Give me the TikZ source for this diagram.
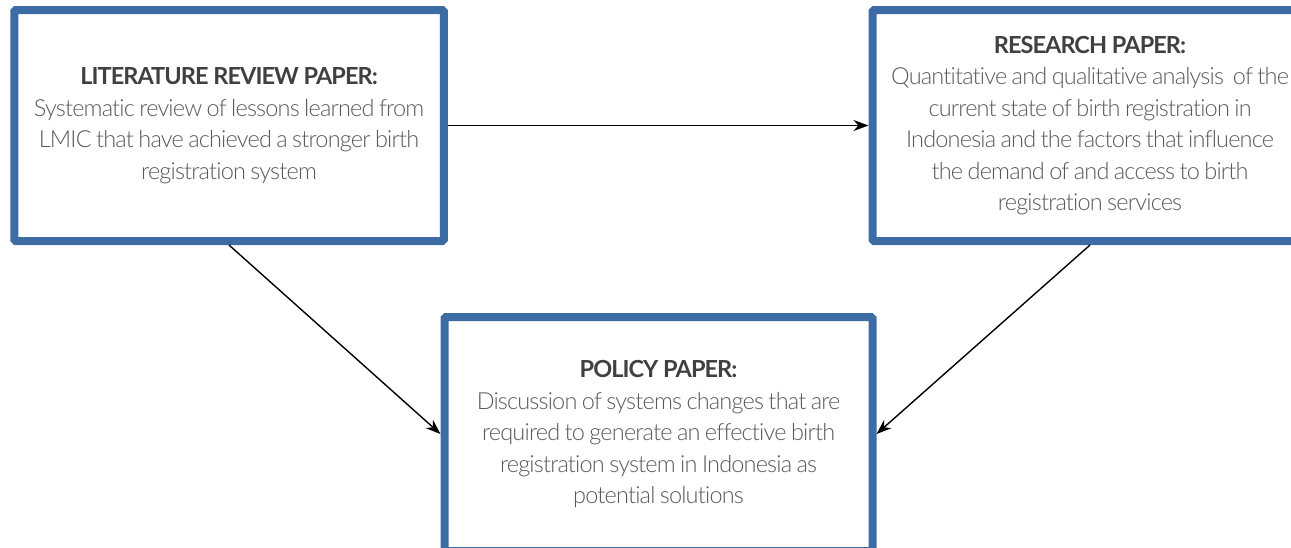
\documentclass[tikz,border=0pt]{standalone}
\usepackage{fontspec}
\setmainfont{Lato}
\newfontfamily\bodyfont{Lato}[UprightFont=* Light, LetterSpace=-3.5, WordSpace=0.8, Ligatures=NoCommon]
\newfontfamily\titlefont{Lato}[UprightFont=* Bold, LetterSpace=-4]
\usetikzlibrary{arrows.meta}
\definecolor{boxblue}{RGB}{61,108,165}
\definecolor{titlegray}{RGB}{64,64,64}
\definecolor{bodygray}{RGB}{89,89,89}
\tikzset{
  paperbox/.style={draw=boxblue, line width=8pt, rounded corners=1.5pt, fill=white,
    align=center, inner sep=0pt, text=bodygray,
    font=\bodyfont\fontsize{23.5}{31.5}\selectfont},
  conn/.style={draw=black, line width=1.4pt, -{Stealth[length=15pt,width=11pt]}}
}
\newcommand{\ptitle}[1]{{\titlefont\color{titlegray}#1}}
\begin{document}
\begin{tikzpicture}[x=1pt,y=-1pt]
\useasboundingbox (0,0) rectangle (1291,547);
\clip (0,0) rectangle (1291,547);
\node[paperbox, minimum width=429.5pt, minimum height=231pt] (lit) at (229,125.5)
  {\ptitle{LITERATURE REVIEW PAPER:}\\
   Systematic review of lessons learned from\\
   LMIC that have achieved a stronger birth\\
   registration system};
\node[paperbox, minimum width=435pt, minimum height=231pt] (res) at (1090,125.5)
  {\ptitle{RESEARCH PAPER:}\\
   Quantitative and qualitative analysis \ of the\\
   current state of birth registration in\\
   Indonesia and the factors that influence\\
   the demand of and access to birth\\
   registration services};
\node[paperbox, minimum width=428pt, minimum height=234pt] (pol) at (658.5,434)
  {\ptitle{POLICY PAPER:}\\
   Discussion of systems changes that are\\
   required to generate an effective birth\\
   registration system in Indonesia as\\
   potential solutions};
\draw[conn] (lit.east) -- (res.west);
\draw[conn] (lit.south) -- (pol.west);
\draw[conn] (res.south) -- (pol.east);
\end{tikzpicture}
\end{document}
